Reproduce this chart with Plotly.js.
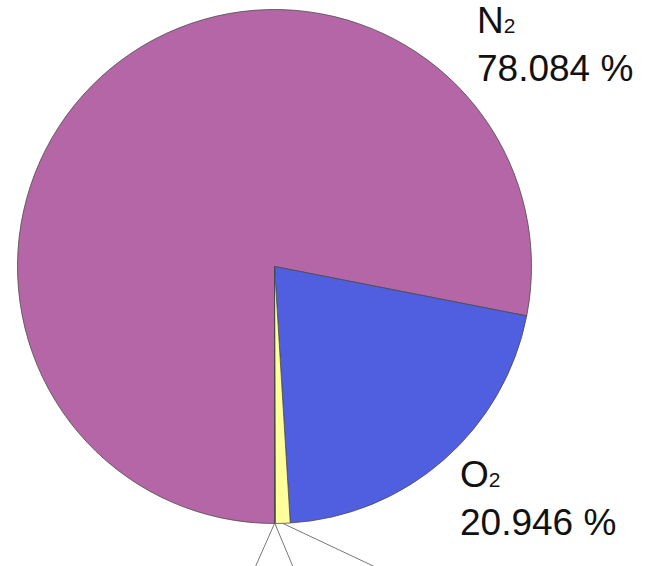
<!DOCTYPE html>
<html>
<head>
<meta charset="utf-8">
<script src="https://cdn.plot.ly/plotly-3.0.1.min.js"></script>
<style>html,body{margin:0;padding:0;background:#fff;}#chart{width:652px;height:566px;}</style>
</head>
<body>
<div id="chart"></div>
<script>
// Data
const gases = ['N2', 'O2', 'Ar', 'CO2', 'Others'];
const gasLabels = ['N', 'O', 'Ar', 'CO', 'Ne, He, CH4 …'];
const gasSub = ['2', '2', '', '2', ''];
const percents = [78.084, 20.946, 0.934, 0.0412, 0.0025];
const colors = ['#b566a7', '#505ee0', '#ffff99', '#dd8844', '#888888'];

const W = 652, H = 566;
const cx = 274.5, cy = 266.5, R = 257;   // pie placement (px)
const rotation = 180;                     // compass deg where first slice starts

function labelText(i) {
  const sub = gasSub[i] ? '<span style="font-size:21px">' + gasSub[i] + '</span>' : '';
  return gasLabels[i] + sub + '<br>' + percents[i].toFixed(3) + ' %';
}

const total = percents.reduce((a, b) => a + b, 0);
function midAngle(i) {
  let cum = 0;
  for (let k = 0; k < i; k++) cum += percents[k];
  return (rotation + (cum + percents[i] / 2) / total * 360) * Math.PI / 180;
}
function edgePoint(i) {
  const a = midAngle(i);
  return [cx + R * Math.sin(a), cy - R * Math.cos(a)];
}

const trace = {
  type: 'pie',
  labels: gases,
  values: percents,
  sort: false,
  direction: 'clockwise',
  rotation: rotation,
  marker: {colors: colors, line: {color: '#4a4a4a', width: 0.8}},
  textinfo: 'none',
  hoverinfo: 'none',
  showlegend: false,
  domain: {x: [(cx - R) / W, (cx + R) / W], y: [(H - cy - R) / H, (H - cy + R) / H]}
};

const font = {family: 'Liberation Sans, Arial, sans-serif', size: 37, color: '#111'};

// visible labels for the two large slices
const annotations = [
  {text: labelText(0), xref: 'paper', yref: 'paper', x: 475 / W, y: 1 + 2 / H, xanchor: 'left', yanchor: 'top', align: 'left', showarrow: false, font: font},
  {text: labelText(1), xref: 'paper', yref: 'paper', x: 458 / W, y: 1 - 452 / H, xanchor: 'left', yanchor: 'top', align: 'left', showarrow: false, font: font}
];
// leader lines towards the small-slice labels, which lie below the picture
const leaderDir = {2: [87, 41], 3: [18, 43], 4: [-19, 43]};
const shapes = [2, 3, 4].map(i => {
  const p = edgePoint(i);
  const q = [p[0] + leaderDir[i][0] * 2, p[1] + leaderDir[i][1] * 2];
  return {
    type: 'line', xref: 'paper', yref: 'paper',
    x0: p[0] / W, y0: 1 - p[1] / H, x1: q[0] / W, y1: 1 - q[1] / H,
    line: {color: '#777', width: 1}
  };
});

Plotly.newPlot('chart', [trace], {
  width: W, height: H,
  margin: {l: 0, r: 0, t: 0, b: 0},
  paper_bgcolor: '#fff',
  annotations: annotations,
  shapes: shapes
}, {staticPlot: true});
</script>
</body>
</html>
